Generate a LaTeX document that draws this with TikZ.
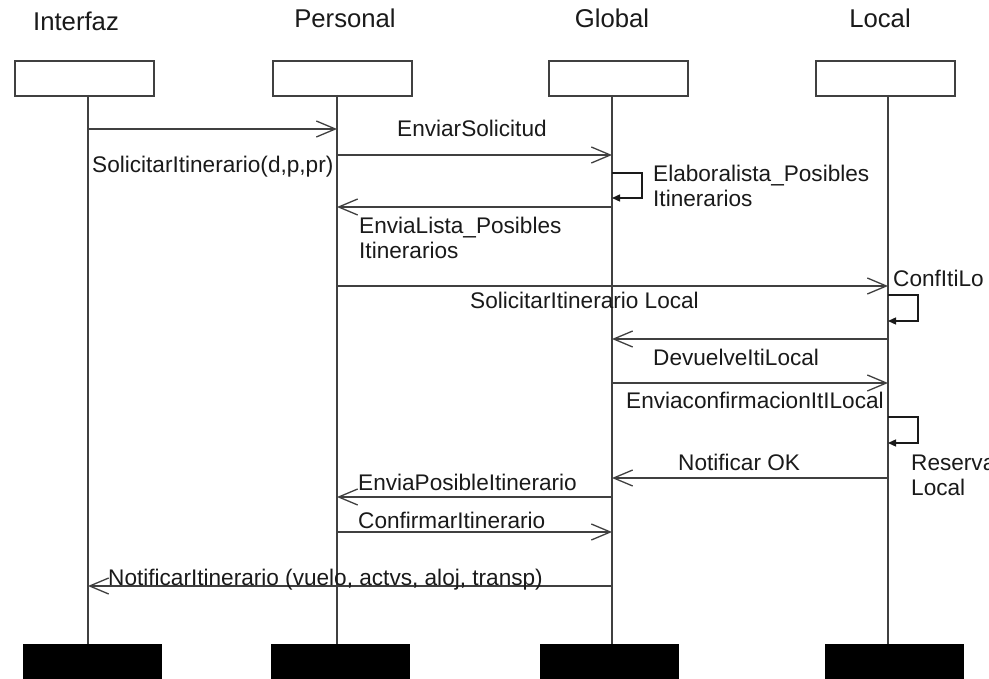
\documentclass[tikz,border=0pt]{standalone}
\usepackage{fontspec}
\setmainfont{Liberation Sans}
\usetikzlibrary{arrows.meta}
\definecolor{ink}{HTML}{1A1A1A}
\definecolor{wire}{HTML}{404040}

\begin{document}
\begin{tikzpicture}[x=1pt,y=-1pt,
  headbox/.style={draw=wire,line width=1.8pt,minimum width=139pt,minimum height=35pt,inner sep=0pt,anchor=north west},
  footbox/.style={fill=black,draw=none,minimum width=139pt,minimum height=40pt,inner sep=0pt,anchor=north west},
  title/.style={font=\fontsize{25.7}{30}\selectfont,text=ink,inner sep=0pt,anchor=base},
  msg/.style={font=\fontsize{22.6}{25}\selectfont,text=ink,inner sep=0pt,anchor=base west},
  lifeline/.style={draw=wire,line width=1.2pt},
  call/.style={draw=wire,line width=1.3pt,-{Straight Barb[length=19pt,width=16pt,line width=1.3pt]}},
  selfcall/.style={draw=ink,line width=1.4pt,-{Triangle[length=8pt,width=7pt]}},
]
% canvas
\path[clip] (0,0) rectangle (989,679);
\fill[white] (0,0) rectangle (989,679);

% participant titles
\node[title] (nI) at (76,31) {Interfaz};
\node[title] (nP) at (345,28) {Personal};
\node[title] (nG) at (612,28) {Global};
\node[title] (nL) at (880,28) {Local};

% head boxes
\node[headbox] (hI) at (14,60) {};
\node[headbox] (hP) at (272,60) {};
\node[headbox] (hG) at (548,60) {};
\node[headbox] (hL) at (815,60) {};

% foot boxes
\node[footbox] (fI) at (23,644) {};
\node[footbox] (fP) at (271,644) {};
\node[footbox] (fG) at (540,644) {};
\node[footbox] (fL) at (825,644) {};

% lifelines
\path (88,95) coordinate (lI1) (88,644) coordinate (lI2)
      (337,95) coordinate (lP1) (337,644) coordinate (lP2)
      (612,95) coordinate (lG1) (612,644) coordinate (lG2)
      (888,95) coordinate (lL1) (888,644) coordinate (lL2);
\draw[lifeline] (lI1) -- (lI2);
\draw[lifeline] (lP1) -- (lP2);
\draw[lifeline] (lG1) -- (lG2);
\draw[lifeline] (lL1) -- (lL2);

% message end points
\path (88,129)  coordinate (m1s)  (337,129) coordinate (m1e)
      (337,155) coordinate (m2s)  (612,155) coordinate (m2e)
      (612,173) coordinate (s1s)  (612,198) coordinate (s1e)
      (612,207) coordinate (m3s)  (337,207) coordinate (m3e)
      (337,286) coordinate (m4s)  (888,286) coordinate (m4e)
      (888,295) coordinate (s2s)  (888,321) coordinate (s2e)
      (888,339) coordinate (m5s)  (612,339) coordinate (m5e)
      (612,383) coordinate (m6s)  (888,383) coordinate (m6e)
      (888,417) coordinate (s3s)  (888,443) coordinate (s3e)
      (888,478) coordinate (m7s)  (612,478) coordinate (m7e)
      (612,497) coordinate (m8s)  (337,497) coordinate (m8e)
      (337,532) coordinate (m9s)  (612,532) coordinate (m9e)
      (612,586) coordinate (m10s) (88,586)  coordinate (m10e);

% messages
\draw[call] (m1s) -- (m1e);
\draw[call] (m2s) -- (m2e);
\draw[selfcall] (s1s) -- ++(30,0) |- (s1e);
\draw[call] (m3s) -- (m3e);
\draw[call] (m4s) -- (m4e);
\draw[selfcall] (s2s) -- ++(30,0) |- (s2e);
\draw[call] (m5s) -- (m5e);
\draw[call] (m6s) -- (m6e);
\draw[selfcall] (s3s) -- ++(30,0) |- (s3e);
\draw[call] (m7s) -- (m7e);
\draw[call] (m8s) -- (m8e);
\draw[call] (m9s) -- (m9e);
\draw[call] (m10s) -- (m10e);

% message labels
\node[msg] (t1) at (92,173) {SolicitarItinerario(d,p,pr)};
\node[msg] (t2) at (397,137) {EnviarSolicitud};
\node[msg] (t3) at (653,182) {\begin{tabular}[t]{@{}l@{}}Elaboralista\_Posibles\\Itinerarios\end{tabular}};
\node[msg] (t4) at (359,234) {\begin{tabular}[t]{@{}l@{}}EnviaLista\_Posibles\\Itinerarios\end{tabular}};
\node[msg] (t5) at (470,309) {SolicitarItinerario Local};
\node[msg] (t6) at (893,287) {ConfItiLo};
\node[msg] (t7) at (653,366) {DevuelveItiLocal};
\node[msg] (t8) at (626,408) {EnviaconfirmacionItILocal};
\node[msg] (t9) at (678,470) {Notificar OK};
\node[msg] (t10) at (911,470) {\begin{tabular}[t]{@{}l@{}}Reserva\\Local\end{tabular}};
\node[msg] (t11) at (358,490) {EnviaPosibleItinerario};
\node[msg] (t12) at (358,528) {ConfirmarItinerario};
\node[msg] (t13) at (108,585) {NotificarItinerario (vuelo, actvs, aloj, transp)};
\end{tikzpicture}
\end{document}
